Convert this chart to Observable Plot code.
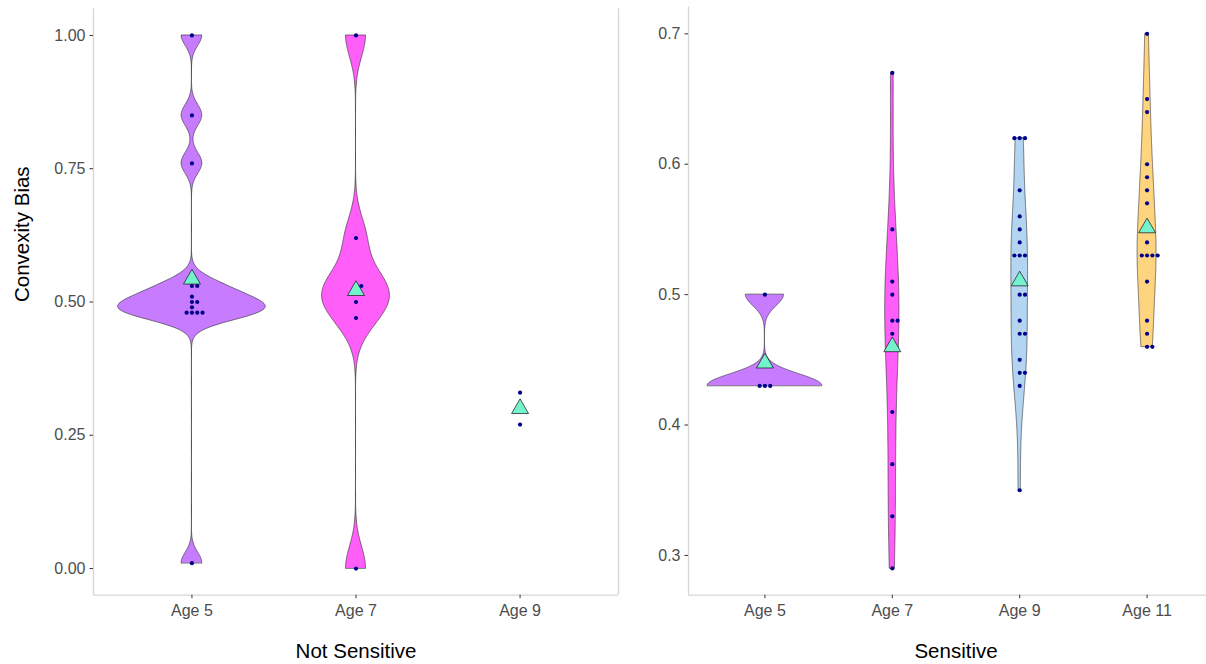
<!DOCTYPE html>
<html>
<head>
<meta charset="utf-8">
<script src="https://cdn.jsdelivr.net/npm/d3@7"></script>
<script src="https://cdn.jsdelivr.net/npm/@observablehq/plot@0.6"></script>
<style>
  html, body { margin: 0; padding: 0; background: #fff; overflow: hidden; }
  #wrap { position: relative; width: 1206px; height: 664px; overflow: hidden; background: #fff; }
  #left, #right { position: absolute; top: 0; }
  #left { left: 0; width: 640px; }
  #right { left: 640px; width: 593px; }
  #wrap svg { max-width: none !important; }
</style>
</head>
<body>
<div id="wrap"><div id="left"></div><div id="right"></div></div>
<script>
// ---- Data ----
const nsCats = ["Age 5", "Age 7", "Age 9"];
const nsAge5 = [1.00, 0.85, 0.76, 0.53, 0.53, 0.51, 0.50, 0.50, 0.49, 0.48, 0.48, 0.48, 0.48, 0.01];
const nsAge7 = [1.00, 0.62, 0.53, 0.53, 0.50, 0.47, 0.00];
const nsAge9 = [0.33, 0.27];
const nsColors = ["#C77CFF", "#FF5EF9", "#B3D5F2"];
const nsTicks = [0, 0.25, 0.5, 0.75, 1];

const sCats = ["Age 5", "Age 7", "Age 9", "Age 11"];
const sAge5 = [0.50, 0.43, 0.43, 0.43];
const sAge7 = [0.67, 0.55, 0.51, 0.50, 0.48, 0.48, 0.47, 0.41, 0.37, 0.33, 0.29];
const sAge9 = [0.62, 0.62, 0.62, 0.58, 0.56, 0.55, 0.54, 0.53, 0.53, 0.53, 0.50, 0.50, 0.48, 0.47, 0.47, 0.45, 0.44, 0.44, 0.43, 0.35];
const sAge11 = [0.70, 0.65, 0.64, 0.60, 0.59, 0.58, 0.57, 0.54, 0.53, 0.53, 0.53, 0.53, 0.51, 0.48, 0.47, 0.46, 0.46];
const sColors = ["#C77CFF", "#FF5EF9", "#B3D5F2", "#FFD47F"];
const sTicks = [0.3, 0.4, 0.5, 0.6, 0.7];

const FONT = "'Liberation Sans', Arial, sans-serif";

// R's bw.nrd0
function nrd0(x) {
  const s = x.slice().sort(d3.ascending);
  const sd = d3.deviation(s);
  const iqr = d3.quantile(s, 0.75) - d3.quantile(s, 0.25);
  let lo = Math.min(sd, iqr / 1.34);
  if (!(lo > 0)) lo = sd || Math.abs(s[0]) || 1;
  return 0.9 * lo * Math.pow(s.length, -0.2);
}

function makePanel(opt) {
  const {cats, groups, colors, yDomain, yTicks, yFormat, width, ml, mr, mt, mb, title, ytitle, rightEdge} = opt;
  const n = cats.length;
  const xDomain = [0.4, n + 0.6];
  const u = (width - ml - mr) / (xDomain[1] - xDomain[0]);

  // violins (trimmed gaussian KDE, scale = "area")
  const dens = [];
  groups.forEach((vals, i) => {
    if (vals.length < 3) return;
    const bw = nrd0(vals);
    const lo = d3.min(vals), hi = d3.max(vals);
    const pts = [];
    for (let k = 0; k < 512; k++) {
      const y = lo + (hi - lo) * k / 511;
      let s = 0;
      for (const v of vals) { const z = (y - v) / bw; s += Math.exp(-0.5 * z * z); }
      pts.push({y, d: s / (vals.length * bw * Math.sqrt(2 * Math.PI))});
    }
    dens.push({i, pts});
  });
  const maxD = d3.max(dens, g => d3.max(g.pts, p => p.d));
  const violinRows = [];
  for (const g of dens) {
    for (const p of g.pts) {
      const w = 0.45 * p.d / maxD;
      violinRows.push({cat: cats[g.i], y: p.y, x1: g.i + 1 - w, x2: g.i + 1 + w, fill: colors[g.i]});
    }
  }

  // dots stacked horizontally (centerwhole)
  const dotRows = [];
  groups.forEach((vals, i) => {
    const counts = d3.rollup(vals, v => v.length, v => v);
    for (const [v, c] of counts) {
      for (let j = 1; j <= c; j++) {
        const k = j - Math.ceil(c / 2);
        dotRows.push({x: i + 1 + k * 5.3 / u, y: v});
      }
    }
  });

  const meanRows = groups.map((vals, i) => ({x: i + 1, y: d3.mean(vals)}));

  const edges = rightEdge ? [xDomain[0], xDomain[1]] : [xDomain[0]];
  const marks = [
    Plot.ruleX(edges, {stroke: "#d6d6d6", strokeWidth: 1.3}),
    Plot.ruleY([yDomain[0]], {stroke: "#d6d6d6", strokeWidth: 1.3}),
    Plot.areaX(violinRows, {y: "y", x1: "x1", x2: "x2", z: "cat", fill: "fill", stroke: "#2a2a2a", strokeWidth: 0.6}),
    Plot.dot(dotRows, {x: "x", y: "y", r: 2.1, fill: "#00008B", stroke: null}),
    Plot.dot(meanRows, {x: "x", y: "y", symbol: "triangle", r: 6.3, fill: "#74F2CC", stroke: "#111", strokeWidth: 0.7}),
    Plot.axisX({ticks: d3.range(1, n + 1), tickFormat: i => cats[i - 1], tickSize: 3.5, tickPadding: 5.5,
      fontSize: 16, stroke: "#333", fill: "#4d4d4d", label: null}),
    Plot.axisY({ticks: yTicks, tickFormat: yFormat, tickSize: 3.5, tickPadding: 4.5,
      fontSize: 16, stroke: "#333", fill: "#4d4d4d", label: null}),
    Plot.text([title], {frameAnchor: "bottom", dy: 56.5, fontSize: 20.5, fill: "black", lineAnchor: "middle"})
  ];
  if (ytitle) {
    marks.push(Plot.text([ytitle], {frameAnchor: "left", dx: 22 - ml, rotate: -90, fontSize: 20.5, fill: "black", lineAnchor: "middle"}));
  }

  return Plot.plot({
    width, height: 664,
    marginLeft: ml, marginRight: mr, marginTop: mt, marginBottom: mb,
    style: {fontFamily: FONT, background: "white", overflow: "visible", maxWidth: "none"},
    x: {domain: xDomain, axis: null},
    y: {domain: yDomain, axis: null},
    color: {type: "identity"},
    marks
  });
}

document.getElementById("left").append(makePanel({
  cats: nsCats, groups: [nsAge5, nsAge7, nsAge9], colors: nsColors,
  yDomain: [-0.05, 1.05], yTicks: nsTicks, yFormat: d3.format(".2f"),
  width: 640, ml: 93, mr: 22, mt: 8.3, mb: 69.3,
  title: "Not Sensitive", ytitle: "Convexity Bias", rightEdge: true
}));

document.getElementById("right").append(makePanel({
  cats: sCats, groups: [sAge5, sAge7, sAge9, sAge11], colors: sColors,
  yDomain: [0.2695, 0.7205], yTicks: sTicks, yFormat: d3.format(".1f"),
  width: 593, ml: 48, mr: 10, mt: 6.6, mb: 69.3,
  title: "Sensitive", ytitle: null, rightEdge: false
}));
</script>
</body>
</html>
